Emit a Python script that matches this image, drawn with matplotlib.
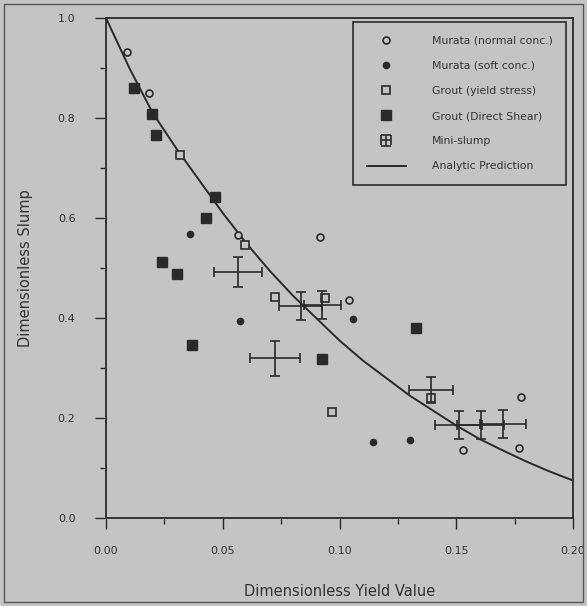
import matplotlib
matplotlib.use("Agg")
import matplotlib.pyplot as plt
from matplotlib.patches import Rectangle
from matplotlib.ticker import MultipleLocator, FormatStrFormatter

# ---- data ----
murata_normal_x = [0.0090, 0.0185, 0.0567, 0.0918, 0.1039, 0.1528, 0.1777, 0.1768]
murata_normal_y = [0.932, 0.850, 0.566, 0.562, 0.436, 0.136, 0.242, 0.140]

murata_soft_x = [0.0361, 0.0575, 0.1056, 0.1142, 0.1300]
murata_soft_y = [0.568, 0.394, 0.398, 0.152, 0.156]

grout_yield_x = [0.0318, 0.0597, 0.0725, 0.0940, 0.0970, 0.1391]
grout_yield_y = [0.726, 0.546, 0.442, 0.440, 0.212, 0.240]

grout_direct_x = [0.0120, 0.0197, 0.0215, 0.0468, 0.0429, 0.0240, 0.0305, 0.0369, 0.0927, 0.1326]
grout_direct_y = [0.860, 0.808, 0.766, 0.642, 0.600, 0.512, 0.488, 0.346, 0.318, 0.380]

mini_x = [0.0567, 0.0833, 0.0927, 0.0725, 0.1391, 0.1511, 0.1605, 0.1700]
mini_y = [0.492, 0.424, 0.426, 0.320, 0.256, 0.186, 0.186, 0.188]
mini_xerr = [0.0103, 0.0090, 0.0080, 0.0107, 0.0095, 0.0100, 0.0100, 0.0100]
mini_yerr = [0.030, 0.028, 0.028, 0.035, 0.026, 0.028, 0.028, 0.028]

curve_x = [0, 0.005, 0.01, 0.02, 0.03, 0.04, 0.05, 0.06, 0.07, 0.08, 0.09, 0.10,
           0.11, 0.12, 0.13, 0.14, 0.15, 0.16, 0.17, 0.18, 0.19, 0.20]
curve_y = [1.0, 0.95, 0.90, 0.81, 0.74, 0.675, 0.61, 0.55, 0.495, 0.445, 0.40, 0.355,
           0.315, 0.28, 0.245, 0.215, 0.185, 0.158, 0.135, 0.113, 0.093, 0.075]

labels = ["Murata (normal conc.)", "Murata (soft conc.)", "Grout (yield stress)",
          "Grout (Direct Shear)", "Mini-slump", "Analytic Prediction"]

bg = "#c4c4c4"
ink = "#2a2a2a"

fig = plt.figure(figsize=(5.87, 6.06), dpi=100, facecolor=bg)
ax = fig.add_axes([106/587, 1-518/606, (573-106)/587, (518-18)/606], facecolor=bg)

# outer frame of the scanned figure
fig.patches.append(Rectangle((4/587, 4/606), 579/587, 598/606, transform=fig.transFigure,
                             fill=False, edgecolor="#555555", lw=1.0))

ax.plot(curve_x, curve_y, color=ink, lw=1.4, label=labels[5], zorder=2)
ax.plot(murata_normal_x, murata_normal_y, 'o', ms=5, mfc=bg, mec=ink, mew=1.2,
        ls='none', label=labels[0], zorder=3)
ax.plot(murata_soft_x, murata_soft_y, 'o', ms=4.5, mfc=ink, mec=ink,
        ls='none', label=labels[1], zorder=3)
ax.plot(grout_yield_x, grout_yield_y, 's', ms=6, mfc=bg, mec=ink, mew=1.2,
        ls='none', label=labels[2], zorder=3)
ax.plot(grout_direct_x, grout_direct_y, 's', ms=6.5, mfc=ink, mec=ink,
        ls='none', label=labels[3], zorder=3)
ax.errorbar(mini_x, mini_y, xerr=mini_xerr, yerr=mini_yerr, fmt='none', ecolor=ink,
            elinewidth=1.2, capsize=3.5, capthick=1.2, label=labels[4], zorder=3)

ax.set_xlim(0, 0.20)
ax.set_ylim(0, 1.0)
ax.xaxis.set_major_locator(MultipleLocator(0.05))
ax.xaxis.set_minor_locator(MultipleLocator(0.025))
ax.yaxis.set_major_locator(MultipleLocator(0.2))
ax.yaxis.set_minor_locator(MultipleLocator(0.1))
ax.xaxis.set_major_formatter(FormatStrFormatter('%.2f'))
ax.yaxis.set_major_formatter(FormatStrFormatter('%.1f'))
ax.tick_params(which='both', direction='out', color=ink, labelcolor="#333333",
               labelsize=8)
ax.tick_params(axis='x', which='major', length=8, width=1.0, pad=12)
ax.tick_params(axis='y', which='major', length=8, width=1.0, pad=14)
ax.tick_params(which='minor', length=4, width=1.0)
for s in ax.spines.values():
    s.set_color(ink)
    s.set_linewidth(1.3)

ax.set_xlabel("Dimensionless Yield Value", fontsize=10.5, color="#333333", labelpad=20)
ax.set_ylabel("Dimensionless Slump", fontsize=10.5, color="#333333", labelpad=18)

h, l = ax.get_legend_handles_labels()
hd = dict(zip(l, h))
leg = ax.legend([hd[x] for x in labels], labels, loc='upper right',
                bbox_to_anchor=(0.985, 0.992), fontsize=7.8, frameon=True,
                fancybox=False, edgecolor=ink, facecolor=bg, framealpha=1,
                labelspacing=1.4, handlelength=3.6, borderpad=1.25,
                handletextpad=2.4, borderaxespad=0)
leg.get_frame().set_linewidth(1.2)
for t in leg.get_texts():
    t.set_color("#333333")

fig.savefig("out.png", dpi=100, facecolor=bg)
